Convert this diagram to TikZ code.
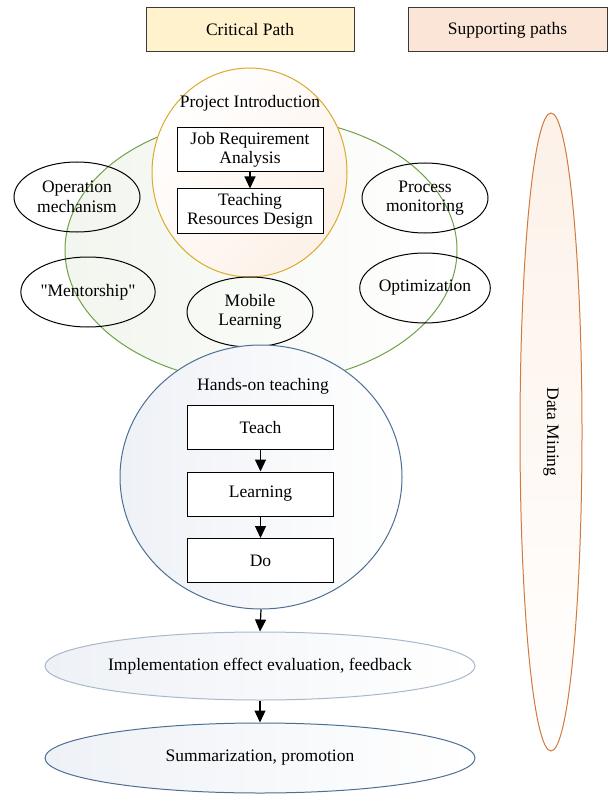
\documentclass[tikz,border=0pt]{standalone}
\usepackage{fontspec}
\setmainfont{Liberation Serif}
\newfontfamily\plainquotefont{Liberation Serif}[Ligatures=TeXOff]
\usetikzlibrary{shapes.geometric,arrows.meta}
\definecolor{cpfill}{HTML}{FFF2CC}
\definecolor{spfill}{HTML}{FBE5D6}
\definecolor{greenline}{HTML}{70A048}
\definecolor{goldline}{HTML}{DCAA2A}
\definecolor{blueline}{HTML}{4E6F94}
\definecolor{paleblueline}{HTML}{A8B8CC}
\definecolor{orangeline}{HTML}{D27A3C}
\definecolor{boxline}{HTML}{3A3A3A}
\definecolor{greenshade}{HTML}{F2F6EE}
\definecolor{blueshade}{HTML}{EEF1F6}
\definecolor{orangeshade}{HTML}{FDF1E8}
\tikzset{
  every node/.style={font=\fontsize{17.5}{19.5}\selectfont},
  legendbox/.style={draw=boxline, line width=1pt, minimum width=208pt, minimum height=44pt, inner sep=0pt},
  stepbox/.style={draw=black, line width=1pt, fill=white, minimum width=146pt, minimum height=44pt, inner sep=1pt, align=center},
  smallell/.style={ellipse, draw=black, line width=1pt, minimum width=126pt, minimum height=70pt, inner sep=0pt, align=center},
  bigell/.style={ellipse, inner sep=0pt, line width=1pt},
  arr/.style={-{Triangle[length=12pt,width=11pt]}, line width=1.2pt, black},
}
\begin{document}
\begin{tikzpicture}[x=1pt,y=-1pt]
\useasboundingbox (0,0) rectangle (607,794);
% legend
\node[legendbox, fill=cpfill] (cp) at (250,30) {Critical Path};
\node[legendbox, fill=spfill, minimum width=199pt] (sp) at (507.5,30) {Supporting paths};
% green ellipse
\node[bigell, draw=greenline, left color=greenshade, right color=white, minimum width=392pt, minimum height=266pt] (green) at (261,250) {};
% yellow circle
\node[bigell, draw=goldline, left color=white, right color=orangeshade, shading angle=45, minimum width=195pt, minimum height=209pt] (yellow) at (249.5,172.5) {};
\node (projt) at (250,103) {Project Introduction};
\node[stepbox] (job) at (250,150) {Job Requirement\\Analysis};
\node[stepbox] (tea) at (250,211) {Teaching\\Resources Design};
\draw[arr] (job) -- (tea);
% small ellipses
\node[smallell] (op) at (77,197) {Operation\\mechanism};
\node[smallell] (pm) at (425,198) {Process\\monitoring};
\node[smallell] (men) at (88,292) {{\plainquotefont"Mentorship"}};
\node[smallell] (opt) at (425,288) {Optimization};
\node[smallell] (mob) at (250,312) {Mobile\\Learning};
% blue circle
\node[bigell, draw=blueline, left color=blueshade, right color=white, minimum width=282pt, minimum height=264pt] (blue) at (261,477) {};
\node (hands) at (263,386) {Hands-on teaching};
\node[stepbox] (teach) at (260.5,427.5) {Teach};
\node[stepbox] (learn) at (260.5,494) {Learning};
\node[stepbox] (do) at (260.5,560.5) {Do};
\draw[arr] (teach) -- (learn);
\draw[arr] (learn) -- (do);
% bottom ellipses
\node[bigell, draw=paleblueline, left color=blueshade, right color=white, minimum width=430pt, minimum height=68pt] (eval) at (260,666) {Implementation effect evaluation, feedback};
\node[bigell, draw=blueline, left color=blueshade, right color=white, minimum width=430pt, minimum height=70pt] (sum) at (260,758) {Summarization, promotion};
\draw[arr] (blue.south) -- (eval.north);
\draw[arr] (eval.south) -- (sum.north);
% data mining
\node[bigell, draw=orangeline, top color=orangeshade, bottom color=white, minimum width=62pt, minimum height=638pt] (dm) at (551,432) {};
\node[rotate=-90] (dmt) at (551,432) {Data Mining};
\end{tikzpicture}
\end{document}
